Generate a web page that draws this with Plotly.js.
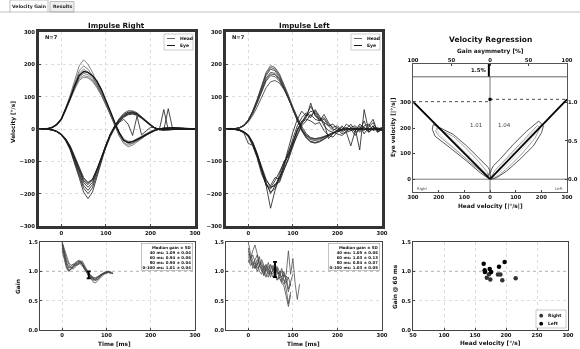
<!DOCTYPE html>
<html><head><meta charset="utf-8">
<script src="https://cdn.plot.ly/plotly-3.0.1.min.js"></script>
<style>html,body{margin:0;padding:0;background:#fff;}#chart{width:580px;height:349px;will-change:transform;transform:translateZ(0);}</style>
</head><body><div id="chart"></div>
<script>
// ---------- DATA ----------
const T = [-50,-40,-30,-20,-10,0,10,20,30,40,50,60,70,80,90,100,110,120,130,140,150,160,170,180,190,200,210,220,230,240,250,260,270,280,290,300];

// Impulse Right: head (positive) and eye (negative)
const R_head1 = [0,0,1,5,15,32,65,105,150,195,214,200,175,145,112,80,45,12,-20,-45,-55,-50,-40,-28,-18,-10,-4,0,3,4,3,2,1,1,0,0];
const R_head2 = [0,0,1,4,13,30,62,100,142,180,195,185,165,138,108,76,42,10,-22,-42,-50,-45,-36,-26,-17,-9,-3,1,3,4,3,2,1,1,0,0];
const R_head3 = [0,1,2,6,16,33,64,98,138,172,185,176,160,140,115,85,50,18,-12,-35,-45,-44,-38,-30,-20,-12,-5,0,3,5,4,3,2,1,1,0];
const R_head4 = [0,0,1,5,14,30,60,95,133,165,178,175,165,148,122,90,55,20,-12,-35,-42,-40,-34,-26,-18,-10,-4,0,2,4,4,3,2,1,1,0];
const R_head5 = [0,0,1,4,12,28,57,92,128,160,172,168,155,135,110,80,46,14,-15,-35,-40,-38,-30,-22,-14,-8,-3,1,3,3,2,2,1,1,0,0];
const R_head6 = [0,0,2,6,15,31,60,93,127,155,165,162,150,130,105,75,42,12,-16,-36,-42,-38,-30,-21,-13,-7,-2,1,3,4,3,2,1,1,0,0];
const R_head7 = [0,0,1,5,13,29,58,90,122,150,160,158,147,128,104,77,46,16,-10,-30,-38,-38,-33,-25,-17,-10,-4,0,2,3,3,2,1,1,0,0];
const R_eye1 = [0,0,-1,-3,-9,-19,-37,-65,-105,-150,-195,-215,-195,-150,-100,-55,-18,10,32,48,56,56,50,38,25,12,3,-2,-3,-2,-1,0,0,0,0,0];
const R_eye2 = [0,0,-1,-3,-8,-18,-35,-62,-100,-142,-182,-200,-182,-140,-95,-52,-16,10,30,45,52,53,47,36,23,11,3,-2,60,-2,-1,0,0,0,0,0];
const R_eye3 = [0,0,-1,-3,-8,-17,-34,-60,-96,-136,-174,-190,-172,-132,-90,-50,-15,9,28,42,50,52,47,37,25,13,4,-1,-3,-2,-1,0,0,0,0,0];
const R_eye4 = [0,0,-1,-2,-7,-16,-32,-57,-92,-130,-165,-180,-165,-128,-88,-50,-17,8,26,40,48,50,46,36,24,12,3,-2,-3,-2,-1,0,0,0,0,0];
const R_eye5 = [0,0,-1,-3,-8,-17,-33,-57,-90,-126,-160,-172,-158,-124,-86,-49,-17,6,24,38,46,48,44,35,23,12,3,-2,-3,63,-1,0,0,0,0,0];
const R_eye6 = [0,0,-1,-3,-8,-16,-31,-54,-86,-122,-155,-168,-156,-124,-88,-52,-20,4,22,36,44,46,42,33,22,11,3,-2,-3,-2,-1,0,0,0,0,0];
const R_eye7 = [0,0,-1,-2,-7,-15,-30,-52,-84,-118,-150,-165,-155,-126,-92,-56,-24,2,20,30,15,-20,40,-18,-5,5,4,-1,-3,-2,-1,0,0,0,0,0];

// Impulse Left
const L_head1 = [0,0,1,4,12,28,56,92,135,175,196,190,170,140,105,68,30,-2,-25,-38,-42,-38,-30,-20,-12,-6,-2,0,1,1,0,0,0,0,0,0];
const L_head2 = [0,0,1,4,12,28,55,90,132,170,190,185,165,135,100,62,26,-5,-27,-40,-44,-40,-32,-22,-13,-6,-2,0,1,1,0,0,0,0,0,0];
const L_head3 = [0,0,1,4,11,27,54,88,128,165,185,180,160,130,96,60,24,-6,-28,-40,-42,-38,-30,-21,-13,-7,-3,0,1,1,0,0,0,0,0,0];
const L_head4 = [0,0,1,4,11,26,52,85,122,157,175,172,155,128,95,60,26,-3,-22,-33,-36,-33,-27,-19,-12,-6,-2,0,1,1,0,0,0,0,0,0];
const L_head5 = [0,0,1,3,10,25,50,82,118,152,170,168,152,126,94,60,26,-2,-20,-30,-32,-30,-25,-18,-11,-6,-2,0,1,0,0,0,0,0,0,0];
const L_head6 = [0,0,1,3,10,24,48,80,115,148,165,162,148,124,94,62,30,2,-18,-28,-30,-28,-23,-17,-11,-5,-2,0,1,0,0,0,0,0,0,0];
const L_head7 = [0,0,1,3,9,22,42,68,98,128,146,150,142,122,96,66,36,8,-14,-26,-30,-28,-24,-18,-12,-6,-2,0,1,0,0,0,0,0,0,0];
const L_eye1 = [0,2,0,-2,-8,-20,-45,-80,-125,-175,-245,-190,-150,-110,-60,-10,30,55,40,70,45,25,30,10,-5,5,-10,0,15,-5,10,-15,5,20,-5,0];
const L_eye2 = [0,0,-1,-3,-10,-18,-40,-75,-120,-165,-200,-175,-160,-120,-75,-30,10,35,50,40,55,35,20,10,15,0,-15,-8,5,10,-5,25,-10,5,0,-5];
const L_eye3 = [1,0,-2,-5,-12,-45,-50,-85,-130,-170,-195,-185,-140,-100,-85,-40,0,20,30,25,15,20,-5,-20,-25,-10,0,5,-5,0,-65,60,-5,10,-10,0];
const L_eye4 = [0,0,-1,-4,-10,-22,-48,-85,-130,-175,-185,-170,-165,-130,-90,-45,-5,25,35,80,40,30,20,-30,-15,-5,5,-10,-52,-5,15,5,-5,10,-5,0];
const L_eye5 = [0,0,-1,-3,-8,-18,-42,-78,-118,-155,-180,-175,-150,-125,-95,-55,-15,15,40,55,50,30,35,15,5,10,-5,15,5,-10,0,5,-10,0,5,-5];
const L_eye6 = [0,1,-1,-3,-9,-20,-44,-80,-125,-160,-175,-150,-155,-115,-70,-40,-5,20,45,35,60,40,10,-5,-10,-15,-20,-10,-5,5,-10,10,15,-5,0,5];
const L_eye7 = [0,0,-1,-4,-11,-24,-52,-90,-140,-170,-182,-160,-130,-105,-80,-50,-20,10,25,45,30,25,45,20,0,-5,10,-5,0,-20,5,-5,10,30,-10,0];

// Gain over time
const GT = [0,5,10,15,20,25,30,35,40,45,50,55,60,65,70,75,80,85,90,95,100,105,110,115];
const RG1 = [1.50,1.32,1.15,1.05,1.08,1.12,1.10,1.15,1.17,1.12,1.04,0.97,0.92,0.88,0.85,0.87,0.90,0.93,0.95,0.97,0.98,0.99,0.97,0.96];
const RG2 = [1.45,1.25,1.10,1.02,1.04,1.08,1.12,1.14,1.16,1.15,1.08,1.00,0.95,0.90,0.86,0.84,0.86,0.90,0.94,0.96,0.98,1.00,0.99,0.97];
const RG3 = [1.48,1.35,1.20,1.12,1.06,1.04,1.08,1.12,1.15,1.18,1.12,1.04,0.97,0.92,0.88,0.86,0.89,0.92,0.94,0.97,0.99,1.00,0.98,null];
const RG4 = [1.40,1.22,1.08,1.00,1.03,1.06,1.10,1.11,1.13,1.10,1.05,0.98,0.93,0.88,0.82,0.80,0.84,0.88,0.92,0.95,0.97,0.98,null,null];
const RG5 = [1.50,1.38,1.25,1.15,1.10,1.12,1.15,1.17,1.16,1.12,1.06,1.00,0.95,0.91,0.89,0.88,0.90,0.94,0.96,0.98,1.00,0.99,0.97,0.96];
const RG6 = [1.35,1.18,1.05,1.00,1.05,1.10,1.13,1.12,1.14,1.13,1.06,0.99,0.94,0.90,0.87,0.85,0.87,0.91,0.95,0.98,0.99,null,null,null];
const RG7 = [1.46,1.28,1.14,1.08,1.06,1.09,1.14,1.18,1.19,1.14,1.07,1.01,0.96,0.93,0.90,0.89,0.91,0.93,0.95,0.96,0.97,0.98,0.96,null];
const LG1 = [1.30,1.22,1.35,1.45,1.30,1.15,1.10,1.05,1.00,1.08,1.12,1.05,0.98,1.00,0.92,0.88,0.85,0.70,0.45,0.65,null,null,null,null];
const LG2 = [1.25,1.15,1.10,1.20,1.28,1.10,1.05,0.95,1.10,1.00,0.90,1.05,1.15,1.00,0.95,1.05,0.90,0.95,1.35,0.95,1.22,0.80,0.52,0.78];
const LG3 = [1.40,1.20,1.15,1.05,1.10,1.25,1.05,0.92,1.05,1.15,1.00,0.95,1.05,0.85,0.90,0.80,0.75,0.55,0.40,0.60,null,null,null,null];
const LG4 = [1.50,1.30,1.18,1.12,1.00,1.08,1.20,1.10,0.95,0.90,1.05,1.10,0.92,0.85,0.95,1.00,0.85,0.80,0.90,0.75,null,null,null,null];
const LG5 = [1.20,1.10,1.15,1.05,1.15,1.00,0.95,1.10,1.05,0.95,1.00,0.90,0.98,1.05,0.88,0.82,0.95,0.90,0.70,0.85,0.95,null,null,null];
const LG6 = [1.35,1.25,1.05,1.10,1.20,1.12,1.00,1.05,1.12,1.05,0.95,1.02,1.08,0.95,1.00,0.85,0.78,0.92,0.88,null,null,null,null,null];
const LG7 = [1.15,1.20,1.28,1.15,1.05,1.10,1.15,1.00,0.90,1.02,1.10,1.00,0.95,1.08,0.98,0.90,1.00,0.85,0.65,0.80,null,null,null,null];

// Median gain ± SD
const statLabels = ["40 ms:", "60 ms:", "80 ms:", "0-100 ms:"];
const statTimes = [40, 60, 80];
const rightMed = [1.09, 0.94, 0.90, 1.01];
const rightSd  = [0.04, 0.06, 0.04, 0.04];
const leftMed  = [1.05, 1.03, 0.84, 1.03];
const leftSd   = [0.06, 0.13, 0.07, 0.05];

// Velocity regression
const regGainRight = 1.01;
const regGainLeft  = 1.04;
const headVelEnds = [300, 0];
const asymmetry = -1.5;
const asymLabel = "1.5%";
const cLO_x = [-221,-182,-143,-91,-39,-6,0,-10,-39,-91,-156,-214,-225,-221];
const cLO_y = [214,195,175,130,78,45,32,6,26,71,123,168,195,214];
const cLI_x = [-205,-175,-140,-95,-45,-12,-8,-40,-95,-150,-200,-212,-205];
const cLI_y = [200,185,165,122,70,30,12,35,80,128,170,188,200];
const cLL_x = [-210,-190,-150,-100,-50,-15,-20,-60,-110,-160,-200,-210];
const cLL_y = [205,192,160,112,60,22,20,50,95,140,180,205];
const cRO_x = [0,6,13,39,91,143,190,208,201,169,117,65,26,5,0];
const cRO_y = [19,39,52,78,136,188,227,208,182,130,78,32,6,0,19];
const cRI_x = [8,20,45,95,140,185,195,175,125,75,35,12,8];
const cRI_y = [15,35,62,115,165,210,200,160,100,50,15,2,15];
const cRL_x = [10,40,90,140,180,200,190,150,100,50,20,10];
const cRL_y = [10,50,105,155,195,215,195,145,90,40,8,10];

// Gain @ 60 ms vs head velocity
const scRightV = [169, 174.7, 172.6, 187, 191, 194, 215.6];
const scRightG = [0.89, 0.86, 0.95, 0.945, 0.945, 0.85, 0.88];
const scLeftV  = [164, 165.6, 166, 173.7, 176, 188.7, 197.8];
const scLeftG  = [1.13, 1.02, 0.99, 1.04, 0.99, 1.08, 1.16];

// ---------- BUILD ----------
const PX = x => x / 580, PY = y => 1 - y / 349;
const FAM = 'DejaVu Sans, sans-serif';
const fnt = (size, color, weight) => ({family: FAM, size: size, color: color || '#111', weight: weight || 'bold'});
const HEAD_C = '#666', EYE_C = '#1a1a1a', GAIN_C = '#444';
const traces = [];
function addLines(arrs, xs, xa, ya, color, width) {
  arrs.forEach(a => traces.push({type: 'scatter', mode: 'lines', x: xs, y: a, xaxis: xa, yaxis: ya,
    line: {color: color, width: width}, hoverinfo: 'skip', showlegend: false}));
}
addLines([R_head1,R_head2,R_head3,R_head5,R_head6,R_head7], T, 'x', 'y', HEAD_C, 0.8);
addLines([R_head4], T, 'x', 'y', '#111', 1.4);
addLines([R_eye1,R_eye2,R_eye3,R_eye4,R_eye5,R_eye6,R_eye7], T, 'x', 'y', EYE_C, 0.8);
addLines([L_head1,L_head2,L_head3,L_head4,L_head5,L_head6,L_head7], T, 'x2', 'y2', '#333', 0.8);
addLines([L_eye1,L_eye2,L_eye3,L_eye4,L_eye5,L_eye6,L_eye7], T, 'x2', 'y2', EYE_C, 0.8);
addLines([RG1,RG2,RG3,RG4,RG5,RG6,RG7], GT, 'x4', 'y4', GAIN_C, 0.75);
addLines([LG1,LG2,LG3,LG4,LG5,LG6,LG7], GT, 'x5', 'y5', GAIN_C, 0.75);
[[rightMed, rightSd, 'x4', 'y4'], [leftMed, leftSd, 'x5', 'y5']].forEach(([m, s, xa, ya]) => {
  traces.push({type: 'scatter', mode: 'markers', x: [statTimes[1]], y: [m[1]], xaxis: xa, yaxis: ya,
    marker: {size: 2, color: '#000'}, error_y: {type: 'data', array: [s[1]], color: '#000', thickness: 1.8, width: 2},
    hoverinfo: 'skip', showlegend: false});
});
function poly(x, y, color, w) {
  traces.push({type: 'scatter', mode: 'lines', x: x, y: y, xaxis: 'x3', yaxis: 'y3',
    line: {color: color, width: w}, hoverinfo: 'skip', showlegend: false});
}
poly(cLL_x, cLL_y, '#c4c4c4', 0.7); poly(cRL_x, cRL_y, '#c4c4c4', 0.7);
poly(cLI_x, cLI_y, '#8a8a8a', 0.8); poly(cRI_x, cRI_y, '#8a8a8a', 0.8);
poly(cLO_x, cLO_y, '#444', 0.9); poly(cRO_x, cRO_y, '#444', 0.9);
traces.push({type: 'scatter', mode: 'lines', x: headVelEnds.map(v => -v), y: headVelEnds.map(v => v * regGainRight),
  xaxis: 'x3', yaxis: 'y3', line: {color: '#000', width: 1.8}, hoverinfo: 'skip', showlegend: false});
traces.push({type: 'scatter', mode: 'lines', x: headVelEnds, y: headVelEnds.map(v => v * regGainLeft),
  xaxis: 'x3', yaxis: 'y3', line: {color: '#000', width: 1.8}, hoverinfo: 'skip', showlegend: false});
traces.push({type: 'scatter', mode: 'lines', x: [-300, 0], y: [regGainRight, regGainRight], xaxis: 'x3', yaxis: 'y7',
  line: {color: '#222', width: 0.8, dash: 'dot'}, hoverinfo: 'skip', showlegend: false});
traces.push({type: 'scatter', mode: 'lines', x: [0, 300], y: [regGainLeft, regGainLeft], xaxis: 'x3', yaxis: 'y7',
  line: {color: '#222', width: 0.8, dash: 'dot'}, hoverinfo: 'skip', showlegend: false});
traces.push({type: 'scatter', mode: 'markers', x: [0], y: [regGainLeft], xaxis: 'x3', yaxis: 'y7',
  marker: {size: 3, color: '#000', symbol: 'square'}, hoverinfo: 'skip', showlegend: false});
traces.push({type: 'scatter', mode: 'lines', x: [asymmetry, asymmetry], y: [400, 450], xaxis: 'x7', yaxis: 'y3',
  line: {color: '#000', width: 2}, hoverinfo: 'skip', showlegend: false});
traces.push({type: 'scatter', mode: 'markers', x: scRightV, y: scRightG, xaxis: 'x6', yaxis: 'y6',
  marker: {size: 4.5, color: '#333'}, hoverinfo: 'skip', showlegend: false});
traces.push({type: 'scatter', mode: 'markers', x: scLeftV, y: scLeftG, xaxis: 'x6', yaxis: 'y6',
  marker: {size: 4.5, color: '#000'}, hoverinfo: 'skip', showlegend: false});

function axis(o) {
  return Object.assign({showgrid: false, zeroline: false, showline: true, mirror: true, linecolor: '#444', linewidth: 1,
    color: '#111', ticks: 'inside', ticklen: 2, tickcolor: '#444', tickfont: fnt(5.3, '#111'), fixedrange: true,
    gridcolor: '#cfcfcf', griddash: 'dot', gridwidth: 0.7}, o);
}
const D1x = [PX(39), PX(195)], D1y = [PY(226), PY(32)];
const D2x = [PX(226), PX(382)];
const D3x = [PX(413), PX(567)], D3y = [PY(192), PY(64)];
const D4x = [PX(40), PX(195)], D4y = [PY(330), PY(242)];
const D5x = [PX(226), PX(382)];
const D6x = [PX(413), PX(568)];
const velTicks = [-300,-200,-100,0,100,200,300];
const gainTicks = [0, 0.5, 1.0, 1.5];
const gainText = gainTicks.map(v => v.toFixed(1));

const layout = {
  width: 580, height: 349, margin: {l: 0, r: 0, t: 0, b: 0}, paper_bgcolor: '#fff', plot_bgcolor: '#fff',
  showlegend: false, font: fnt(6, '#111'),
  xaxis: axis({domain: D1x, range: [-50, 300], anchor: 'y', tickvals: [0,100,200,300], showgrid: true, linewidth: 3, linecolor: '#333'}),
  yaxis: axis({domain: D1y, range: [-300, 300], anchor: 'x', tickvals: velTicks, showgrid: true, linewidth: 3, linecolor: '#333'}),
  xaxis2: axis({domain: D2x, range: [-50, 300], anchor: 'y2', tickvals: [0,100,200,300], showgrid: true, linewidth: 3, linecolor: '#333'}),
  yaxis2: axis({domain: D1y, range: [-300, 300], anchor: 'x2', tickvals: velTicks, showgrid: true, linewidth: 3, linecolor: '#333'}),
  xaxis3: axis({domain: D3x, range: [-300, 300], anchor: 'y3', tickvals: velTicks, ticktext: velTicks.map(v => String(Math.abs(v))), linecolor: '#555'}),
  yaxis3: axis({domain: D3y, range: [-50, 450], anchor: 'x3', tickvals: [0,100,200,300], linecolor: '#555'}),
  xaxis7: axis({domain: D3x, range: [-100, 100], overlaying: 'x3', side: 'top', anchor: 'y3', showline: false,
    tickvals: [-100,-50,0,50,100], ticktext: ['100','50','0','50','100']}),
  yaxis7: axis({domain: D3y, range: [-50/300, 450/300], overlaying: 'y3', side: 'right', anchor: 'x3', showline: false,
    tickvals: [0, 0.5, 1.0], ticktext: ['0.0','0.5','1.0']}),
  xaxis4: axis({domain: D4x, range: [-50, 300], anchor: 'y4', tickvals: [0,100,200,300], showgrid: true}),
  yaxis4: axis({domain: D4y, range: [0, 1.5], anchor: 'x4', tickvals: gainTicks, ticktext: gainText, showgrid: true}),
  xaxis5: axis({domain: D5x, range: [-50, 300], anchor: 'y5', tickvals: [0,100,200,300], showgrid: true}),
  yaxis5: axis({domain: D4y, range: [0, 1.5], anchor: 'x5', tickvals: gainTicks, ticktext: gainText, showgrid: true}),
  xaxis6: axis({domain: D6x, range: [50, 300], anchor: 'y6', tickvals: [50,100,150,200,250,300], showgrid: true}),
  yaxis6: axis({domain: D4y, range: [0, 1.5], anchor: 'x6', tickvals: gainTicks, ticktext: gainText, showgrid: true}),
  shapes: [], annotations: []
};
const S = layout.shapes, A = layout.annotations;
function ann(o) { A.push(Object.assign({xref: 'paper', yref: 'paper', xanchor: 'center', yanchor: 'middle', showarrow: false, font: fnt(6)}, o)); }
function pann(x, y, text, o) { ann(Object.assign({x: PX(x), y: PY(y), text: text}, o || {})); }
// tabs
S.push({type: 'rect', xref: 'paper', yref: 'paper', x0: PX(10), x1: PX(48), y0: PY(12), y1: PY(0), line: {color: '#999', width: 0.6}, fillcolor: '#fff'});
S.push({type: 'rect', xref: 'paper', yref: 'paper', x0: PX(50), x1: PX(74), y0: PY(12), y1: PY(1.5), line: {color: '#999', width: 0.6}, fillcolor: '#eee'});
S.push({type: 'line', xref: 'paper', yref: 'paper', x0: PX(48), x1: 1, y0: PY(12), y1: PY(12), line: {color: '#999', width: 0.6}});
S.push({type: 'line', xref: 'paper', yref: 'paper', x0: 0, x1: PX(10), y0: PY(12), y1: PY(12), line: {color: '#999', width: 0.6}});
pann(29, 6.5, 'Velocity Gain', {font: fnt(4.6, '#222')});
pann(62, 7, 'Results', {font: fnt(4.6, '#222')});
// titles
pann(117, 26, 'Impulse Right', {font: fnt(7.2)});
pann(304, 26, 'Impulse Left', {font: fnt(7.2)});
pann(490, 39, 'Velocity Regression', {font: fnt(7.5)});
// axis titles
pann(14, 122, 'Velocity [°/s]', {textangle: -90, font: fnt(5.8)});
pann(18, 287, 'Gain', {textangle: -90, font: fnt(5.8)});
pann(114, 343.5, 'Time [ms]', {font: fnt(5.8)});
pann(303, 343.5, 'Time [ms]', {font: fnt(5.8)});
pann(395, 287, 'Gain @ 60 ms', {textangle: -90, font: fnt(5.8)});
pann(490, 343.5, 'Head velocity [°/s]', {font: fnt(5.8)});
pann(394, 127, 'Eye velocity [|°/s|]', {textangle: -90, font: fnt(5.8)});
pann(490, 206, 'Head velocity [|°/s|]', {font: fnt(5.8)});
pann(490, 51, 'Gain asymmetry [%]', {font: fnt(5.8)});
// N=7 and legends
[[39, 195], [226, 382]].forEach(([l, r]) => {
  pann(l + 4, 36.5, 'N=7', {xanchor: 'left', font: fnt(5.2)});
  S.push({type: 'rect', xref: 'paper', yref: 'paper', x0: PX(r - 31), x1: PX(r - 2), y0: PY(50), y1: PY(34), line: {color: '#aaa', width: 0.6}, fillcolor: '#fff'});
  S.push({type: 'line', xref: 'paper', yref: 'paper', x0: PX(r - 28), x1: PX(r - 20), y0: PY(38.5), y1: PY(38.5), line: {color: HEAD_C, width: 1}});
  S.push({type: 'line', xref: 'paper', yref: 'paper', x0: PX(r - 28), x1: PX(r - 20), y0: PY(45.5), y1: PY(45.5), line: {color: EYE_C, width: 1}});
  pann(r - 17, 38.5, 'Head', {xanchor: 'left', font: fnt(4.5)});
  pann(r - 17, 45.5, 'Eye', {xanchor: 'left', font: fnt(4.5)});
});
// gain = 1 dashed lines
[[D4x, 'y4'], [D5x, 'y5'], [D6x, 'y6']].forEach(([dx, ya]) => {
  S.push({type: 'line', xref: 'paper', yref: ya, x0: dx[0], x1: dx[1], y0: 1, y1: 1, line: {color: '#777', width: 0.8, dash: 'dot'}, layer: 'below'});
});
// stats boxes
function statText(m, s) {
  return ['Median gain ± SD'].concat(statLabels.map((lab, i) => lab + ' ' + m[i].toFixed(2) + ' ± ' + s[i].toFixed(2))).join('<br>');
}
pann(193, 243, statText(rightMed, rightSd), {xanchor: 'right', yanchor: 'top', align: 'right', font: fnt(3.9),
  bordercolor: '#999', borderwidth: 0.6, borderpad: 1, bgcolor: '#fff'});
pann(380, 243, statText(leftMed, leftSd), {xanchor: 'right', yanchor: 'top', align: 'right', font: fnt(3.9),
  bordercolor: '#999', borderwidth: 0.6, borderpad: 1, bgcolor: '#fff'});
// regression panel
S.push({type: 'line', xref: 'x3', yref: 'y3', x0: -300, x1: 300, y0: 400, y1: 400, line: {color: '#555', width: 0.9}});
S.push({type: 'line', xref: 'x3', yref: 'y3', x0: -300, x1: 300, y0: 0, y1: 0, line: {color: '#555', width: 0.8}, layer: 'below'});
S.push({type: 'line', xref: 'x3', yref: 'y3', x0: 0, x1: 0, y0: -50, y1: 400, line: {color: '#555', width: 0.8}, layer: 'below'});
ann({xref: 'x3', yref: 'y3', x: -55, y: 210, text: regGainRight.toFixed(2), font: fnt(5.5, '#444', 'normal')});
ann({xref: 'x3', yref: 'y3', x: 55, y: 210, text: regGainLeft.toFixed(2), font: fnt(5.5, '#444', 'normal')});
ann({xref: 'x7', yref: 'y3', x: asymmetry - 1.5, y: 428, xanchor: 'right', text: asymLabel, font: fnt(5.3)});
ann({xref: 'x3', yref: 'y3', x: -292, y: -38, xanchor: 'left', text: 'Right', font: fnt(3.8, '#444', 'normal')});
ann({xref: 'x3', yref: 'y3', x: 292, y: -38, xanchor: 'right', text: 'Left', font: fnt(3.8, '#444', 'normal')});
// scatter legend
S.push({type: 'rect', xref: 'paper', yref: 'paper', x0: PX(536), x1: PX(566), y0: PY(328), y1: PY(310), line: {color: '#aaa', width: 0.6}, fillcolor: '#fff'});
pann(541, 315, '●', {font: fnt(5, '#333')});
pann(541, 323, '●', {font: fnt(5, '#000')});
pann(546, 315, 'Right', {xanchor: 'left', font: fnt(4.4)});
pann(546, 323, 'Left', {xanchor: 'left', font: fnt(4.4)});

Plotly.newPlot('chart', traces, layout, {displayModeBar: false, staticPlot: true});
</script></body></html>
